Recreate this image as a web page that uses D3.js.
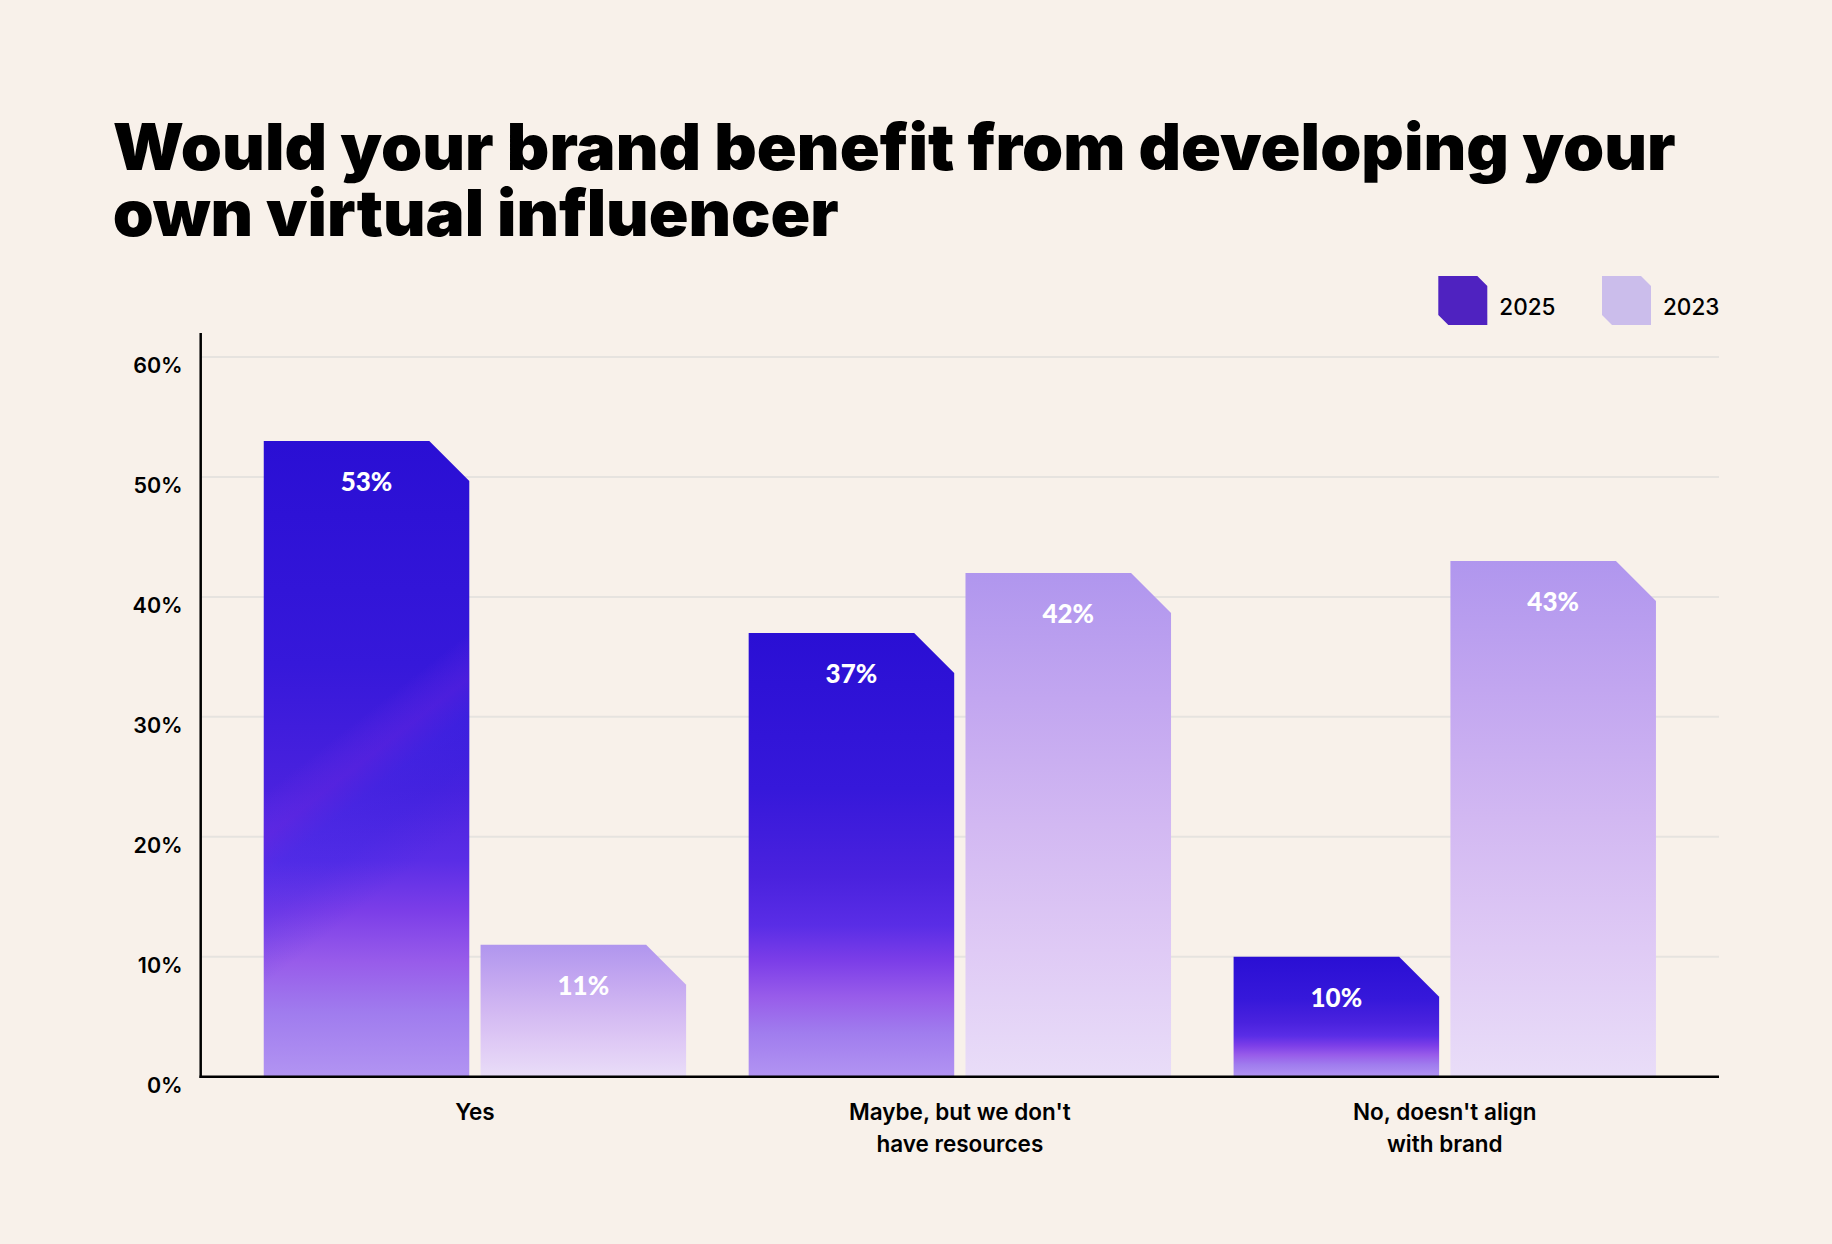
<!DOCTYPE html>
<html>
<head>
<meta charset="utf-8">
<script src="https://cdn.jsdelivr.net/npm/d3@7"></script>
<style>
  html, body { margin: 0; padding: 0; background: #f8f1ea; }
  svg { display: block; }
</style>
</head>
<body>
<div id="chart"></div>
<script>
// ---- data ----
const titleLines = ["Would your brand benefit from developing your", "own virtual influencer"];
const categories = ["Yes", "Maybe, but we don't have resources", "No, doesn't align with brand"];
const categoryLines = [["Yes"], ["Maybe, but we don't", "have resources"], ["No, doesn't align", "with brand"]];
const seriesNames = ["2025", "2023"];
const values2025 = [53, 37, 10];
const values2023 = [11, 42, 43];
const yTicks = [0, 10, 20, 30, 40, 50, 60];
const yTickLabels = ["0%", "10%", "20%", "30%", "40%", "50%", "60%"];

// ---- layout ----
const W = 1832, H = 1244;
const svg = d3.select("#chart").append("svg").attr("width", W).attr("height", H);
svg.append("rect").attr("width", W).attr("height", H).attr("fill", "#f8f1ea");

const defs = svg.append("defs");
function grad(id, stops, x1 = 0, y1 = 0, x2 = 0, y2 = 1, units) {
  const g = defs.append("linearGradient").attr("id", id)
    .attr("x1", x1).attr("y1", y1).attr("x2", x2).attr("y2", y2);
  if (units) g.attr("gradientUnits", units);
  stops.forEach(s => g.append("stop").attr("offset", s[0]).attr("stop-color", s[1]).attr("stop-opacity", s[2] == null ? 1 : s[2]));
}
grad("g2025", [[0, "#2a0fd4"], [0.35, "#3618da"], [0.55, "#4a22de"], [0.66, "#5a2de6"], [0.74, "#7c3ee8"], [0.82, "#985cea"], [0.9, "#a07cee"], [1, "#b294f2"]]);
grad("g2023", [[0, "#b096ee"], [0.25, "#c2a6f0"], [0.5, "#d2b8f2"], [0.75, "#dfcaf5"], [1, "#e9ddf8"]]);

const x = d3.scaleBand().domain(categories).range([200.7, 1719]).paddingInner(0.129).paddingOuter(0.13);
const xs = d3.scaleBand().domain(seriesNames).range([0, x.bandwidth()]).paddingInner(0.052);
const y = d3.scaleLinear().domain([0, 62]).range([1076.7, 333]);

const fills = { "2025": "url(#g2025)", "2023": "url(#g2023)" };

// diagonal streak for the tallest 2025 bar (user space, bottom-left to top-right)
{
  const bx = x(categories[0]) + xs("2025"), bw = xs.bandwidth();
  const cx = bx + bw / 2, cy = y(25);
  const nx = 0.617, ny = 0.787, ext = 180;
  grad("streak", [[0, "#7a2ee8", 0], [0.36, "#7a2ee8", 0], [0.46, "#6a26e0", 0.35], [0.54, "#3a28e6", 0.3], [0.64, "#2a24e4", 0.2], [0.78, "#2a24e4", 0], [1, "#2a24e4", 0]],
    cx - nx * ext, cy - ny * ext, cx + nx * ext, cy + ny * ext, "userSpaceOnUse");
}

// ---- title ----
const title = svg.append("text")
  .attr("font-family", "Inter, 'Noto Sans', sans-serif")
  .attr("font-weight", 900).attr("font-size", 64).attr("fill", "#000");
titleLines.forEach((t, i) => {
  title.append("tspan")
    .attr("x", 112.7).attr("y", 169.5 + i * 66)
    .attr("textLength", i === 0 ? 1563 : 726)
    .attr("lengthAdjust", "spacingAndGlyphs")
    .text(t);
});

// ---- gridlines ----
svg.append("g").selectAll("line").data(yTicks.filter(d => d > 0)).join("line")
  .attr("x1", 202).attr("x2", 1719)
  .attr("y1", d => y(d)).attr("y2", d => y(d))
  .attr("stroke", "#e6e3df").attr("stroke-width", 2);

// ---- y axis ----
const yAxis = d3.axisLeft(y).tickValues(yTicks).tickSize(0).tickPadding(18)
  .tickFormat((d, i) => yTickLabels[i]);
const yg = svg.append("g").attr("transform", "translate(200.7,0)").call(yAxis);
yg.select(".domain").remove();
yg.selectAll("text")
  .attr("font-family", "Inter, sans-serif").attr("font-weight", 600)
  .attr("font-size", 21.5).attr("fill", "#000")
  .attr("dy", 15.5).attr("x", -18);
svg.append("line").attr("x1", 200.7).attr("x2", 200.7)
  .attr("y1", y(62)).attr("y2", y(0) + 1.2)
  .attr("stroke", "#000").attr("stroke-width", 2.5);

// ---- bars ----
const cut = 40;
function barPath(x0, w, yt, yb) {
  return `M${x0},${yb}L${x0},${yt}L${x0 + w - cut},${yt}L${x0 + w},${yt + cut}L${x0 + w},${yb}Z`;
}
const rows = [];
categories.forEach((c, i) => {
  rows.push({ cat: c, s: "2025", v: values2025[i], first: i === 0 });
  rows.push({ cat: c, s: "2023", v: values2023[i], first: false });
});
const bars = svg.append("g");
rows.forEach(d => {
  const x0 = x(d.cat) + xs(d.s);
  const w = xs.bandwidth();
  const p = barPath(x0, w, y(d.v), y(0));
  bars.append("path").attr("d", p).attr("fill", fills[d.s]);
  if (d.s === "2025" && d.first) {
    bars.append("path").attr("d", p).attr("fill", "url(#streak)");
  }
  bars.append("text")
    .attr("x", x0 + w / 2).attr("y", y(d.v) + 50)
    .attr("text-anchor", "middle")
    .attr("font-family", "Lato, sans-serif").attr("font-weight", 900)
    .attr("font-size", 26).attr("fill", "#fff")
    .text(d.v + "%");
});

// ---- x axis baseline ----
svg.append("line").attr("x1", 199.5).attr("x2", 1719)
  .attr("y1", y(0)).attr("y2", y(0))
  .attr("stroke", "#000").attr("stroke-width", 2.5);

// ---- category labels ----
const xl = svg.append("g");
categories.forEach((c, i) => {
  const t = xl.append("text")
    .attr("x", x(c) + x.bandwidth() / 2).attr("y", 1120)
    .attr("text-anchor", "middle")
    .attr("font-family", "Inter, sans-serif").attr("font-weight", 600)
    .attr("font-size", 22.5).attr("fill", "#000");
  categoryLines[i].forEach((ln, j) => {
    t.append("tspan").attr("x", x(c) + x.bandwidth() / 2).attr("dy", j === 0 ? 0 : 32).text(ln);
  });
});

// ---- legend ----
const legendColors = { "2025": "#4f22c0", "2023": "#cbbdeb" };
const legendX = [1438.3, 1602];
const lc = 10, ls = 49, ly = 276;
seriesNames.forEach((s, i) => {
  const lx = legendX[i];
  svg.append("path")
    .attr("d", `M${lx},${ly}L${lx + ls - lc},${ly}L${lx + ls},${ly + lc}L${lx + ls},${ly + ls}L${lx + lc},${ly + ls}L${lx},${ly + ls - lc}Z`)
    .attr("fill", legendColors[s]);
  svg.append("text").attr("x", lx + 61).attr("y", 315)
    .attr("font-family", "Inter, sans-serif").attr("font-weight", 500)
    .attr("font-size", 22.5).attr("fill", "#000").text(s);
});
</script>
</body>
</html>
